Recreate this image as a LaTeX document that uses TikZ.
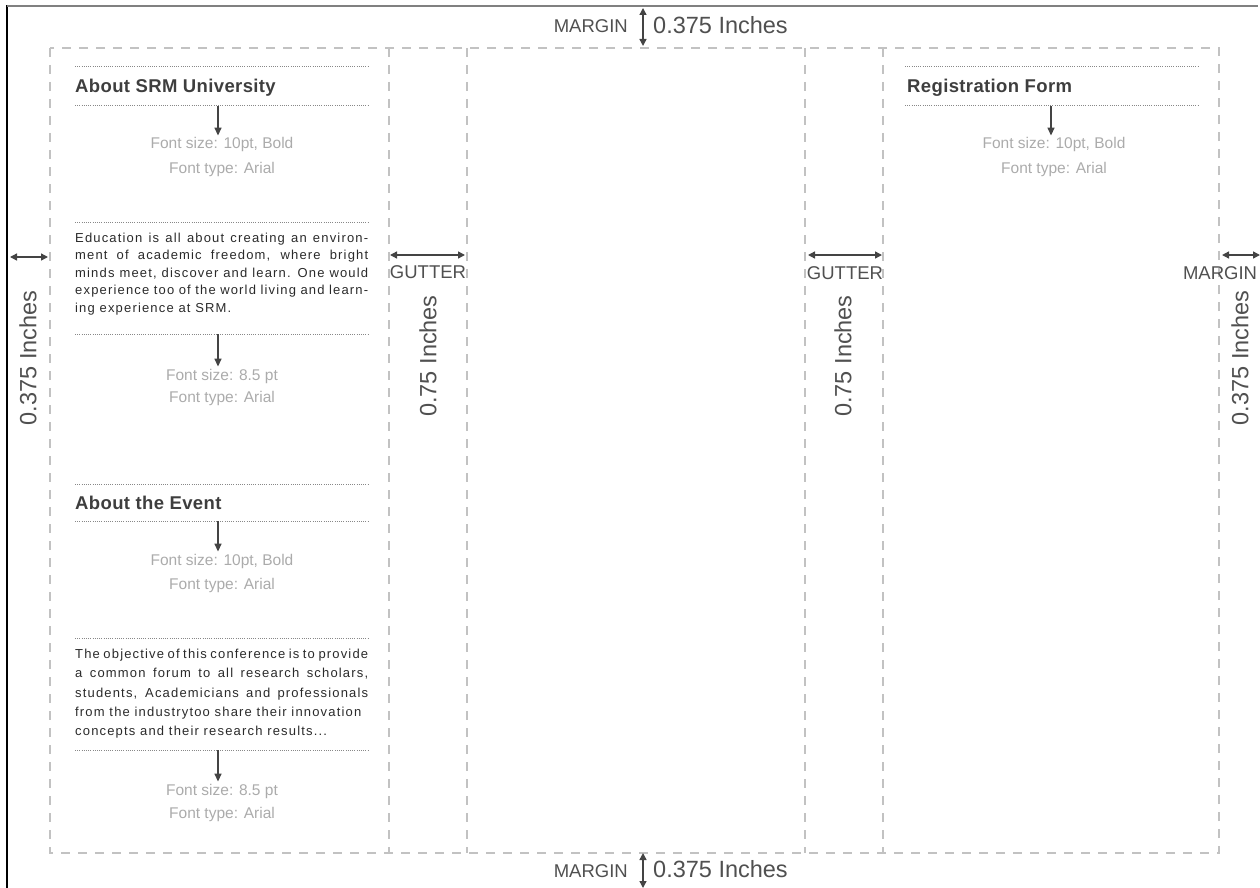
\documentclass[tikz,border=0pt]{standalone}
\usepackage{fontspec}
\setmainfont{Liberation Sans}
\newfontfamily\parafont[LetterSpace=9]{Liberation Sans}
\newfontfamily\headfont[LetterSpace=2]{Liberation Sans}
\usetikzlibrary{arrows.meta}
\definecolor{dashc}{HTML}{C2C2C2}
\definecolor{dotc}{HTML}{888888}
\definecolor{headc}{HTML}{3E3E3E}
\definecolor{parac}{HTML}{2A2A2A}
\definecolor{notec}{HTML}{ABABAB}
\definecolor{dimc}{HTML}{505050}
\definecolor{arrc}{HTML}{444444}
\begin{document}
\begin{tikzpicture}[x=1pt,y=-1pt,
  frameline/.style={dashc, line width=1.3pt, dash pattern=on 9pt off 8pt},
  sepline/.style={dotc, line width=1pt, dash pattern=on 1pt off 1.2pt},
  ptr/.style={arrc, line width=1.4pt, shorten >=2pt, -{Triangle[length=8pt,width=7pt]}},
  dimarrow/.style={arrc, line width=1.4pt, {Triangle[length=7pt,width=7pt]}-{Triangle[length=7pt,width=7pt]}},
  head/.style={inner sep=0pt, anchor=base west, text=headc, font=\headfont\fontsize{18.5}{20}\selectfont\bfseries},
  note/.style={inner sep=0pt, anchor=base, text=notec, font=\fontsize{15.5}{18}\selectfont},
  para/.style={inner sep=0pt, anchor=base west, text=parac, font=\parafont\fontsize{13}{15}\selectfont},
  dimlbl/.style={inner sep=0pt, text=dimc, font=\fontsize{23.5}{26}\selectfont},
  caplbl/.style={inner sep=0pt, text=dimc, font=\fontsize{18.5}{20}\selectfont}
]
\useasboundingbox (0,0) rectangle (1260,888);

% outer frame of the sheet
\draw[black, line width=2.5pt] (7,5) -- (7,888);
\draw[gray, line width=1.5pt] (7,6) -- (1258,6);

% dashed panel guides
\draw[frameline] (50,48) rectangle (1219,853);
\foreach \xx in {389,467,805,883}{\draw[frameline] (\xx,48) -- (\xx,853);}

% ---------- Panel 1 ----------
\draw[sepline] (75,67) -- (368,67);
\node[head] (h1) at (75,93) {About SRM University};
\draw[sepline] (75,106) -- (368,106);
\coordinate (a1) at (218,106);
\node[note] (fs1) at (222,149) {Font size: 10pt, Bold};
\node[note] (ft1) at (222,173) {Font type: Arial};
\draw[ptr] (a1) -- (a1 |- fs1.north);

\draw[sepline] (75,222) -- (368,222);
\node[para] (p1a) at (75,242)   {\makebox[293pt][s]{Education is all about creating an environ-}};
\node[para] (p1b) at (75,259.5) {\makebox[293pt][s]{ment of academic freedom, where bright}};
\node[para] (p1c) at (75,277)   {\makebox[293pt][s]{minds meet, discover and learn. One would}};
\node[para] (p1d) at (75,294.5) {\makebox[293pt][s]{experience too of the world living and learn-}};
\node[para] (p1e) at (75,312)   {ing experience at SRM.};
\draw[sepline] (75,334) -- (368,334);
\coordinate (a2) at (218,334);
\node[note] (fs2) at (222,380) {Font size: 8.5 pt};
\node[note] (ft2) at (222,402) {Font type: Arial};
\draw[ptr] (a2) -- (a2 |- fs2.north);

\draw[sepline] (75,484) -- (368,484);
\node[head] (h2) at (75,509) {About the Event};
\draw[sepline] (75,521) -- (368,521);
\coordinate (a3) at (218,521);
\node[note] (fs3) at (222,565) {Font size: 10pt, Bold};
\node[note] (ft3) at (222,589) {Font type: Arial};
\draw[ptr] (a3) -- (a3 |- fs3.north);

\draw[sepline] (75,638) -- (368,638);
\node[para] (p2a) at (75,658) {\makebox[293pt][s]{The objective of this conference is to provide}};
\node[para] (p2b) at (75,677) {\makebox[293pt][s]{a common forum to all research scholars,}};
\node[para] (p2c) at (75,697) {\makebox[293pt][s]{students, Academicians and professionals}};
\node[para] (p2d) at (75,716) {from the industrytoo share their innovation};
\node[para] (p2e) at (75,735) {concepts and their research results...};
\draw[sepline] (75,750) -- (368,750);
\coordinate (a4) at (218,750);
\node[note] (fs4) at (222,795) {Font size: 8.5 pt};
\node[note] (ft4) at (222,818) {Font type: Arial};
\draw[ptr] (a4) -- (a4 |- fs4.north);

% ---------- Registration panel ----------
\draw[sepline] (905,67) -- (1198,67);
\node[head] (h3) at (907,93) {Registration Form};
\draw[sepline] (905,106) -- (1198,106);
\coordinate (a5) at (1051,106);
\node[note] (fs5) at (1054,149) {Font size: 10pt, Bold};
\node[note] (ft5) at (1054,173) {Font type: Arial};
\draw[ptr] (a5) -- (a5 |- fs5.north);

% ---------- dimensions ----------
% left margin
\coordinate (lm1) at (10,257);
\coordinate (lm2) at (48,257);
\draw[dimarrow] (lm1) -- (lm2);
\node[dimlbl, rotate=90] (lmt) at (28,358) {0.375 Inches};

% gutter 1
\coordinate (g1a) at (390,255);
\coordinate (g1b) at (465,255);
\draw[dimarrow] (g1a) -- (g1b);
\node[caplbl, anchor=base] (g1l) at (428,278) {GUTTER};
\node[dimlbl, rotate=90] (g1t) at (428,356) {0.75 Inches};

% gutter 2
\coordinate (g2a) at (808,255);
\coordinate (g2b) at (882,255);
\draw[dimarrow] (g2a) -- (g2b);
\node[caplbl, anchor=base] (g2l) at (845,279) {GUTTER};
\node[dimlbl, rotate=90] (g2t) at (843,356) {0.75 Inches};

% right margin
\coordinate (rm1) at (1222,255);
\coordinate (rm2) at (1260,255);
\draw[dimarrow] (rm1) -- (rm2);
\node[caplbl, anchor=base] (rml) at (1220,279) {MARGIN};
\node[dimlbl, rotate=90] (rmt) at (1240,358) {0.375 Inches};

% top margin
\coordinate (tm1) at (643,8);
\coordinate (tm2) at (643,46);
\draw[dimarrow] (tm1) -- (tm2);
\node[caplbl, anchor=base east] (tml) at (628,33) {MARGIN};
\node[dimlbl, anchor=base west] (tmt) at (653,34) {0.375 Inches};

% bottom margin
\coordinate (bm1) at (643,853);
\coordinate (bm2) at (643,888);
\draw[dimarrow] (bm1) -- (bm2);
\node[caplbl, anchor=base east] (bml) at (628,877) {MARGIN};
\node[dimlbl, anchor=base west] (bmt) at (653,877) {0.375 Inches};
\end{tikzpicture}
\end{document}
